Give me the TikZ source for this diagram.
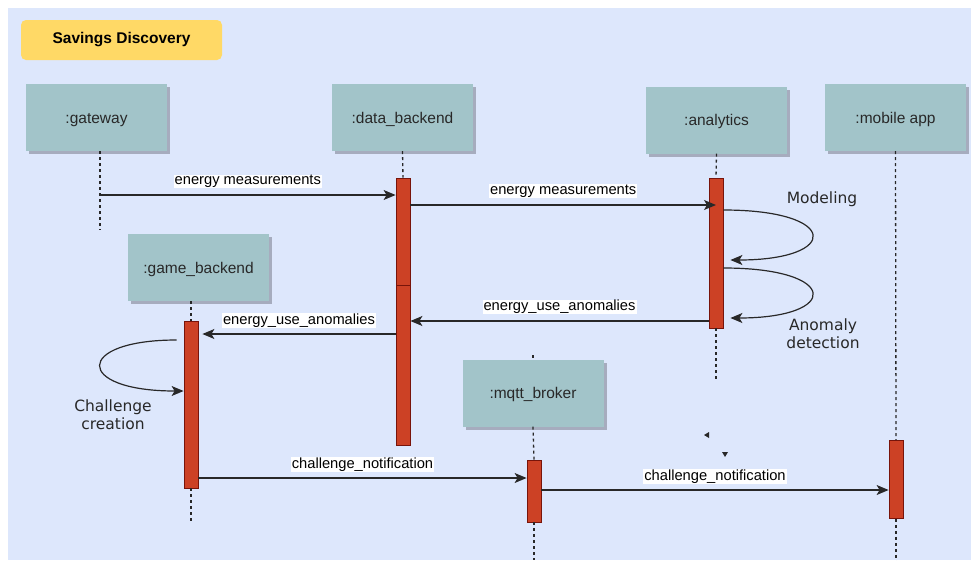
\documentclass[tikz,border=0pt]{standalone}
\usepackage{fontspec}
\setmainfont{Liberation Sans}
\newfontfamily\loopfont{DejaVu Sans}
\usepackage{tikz}
\usetikzlibrary{arrows.meta,shadows}

\definecolor{bgblue}{RGB}{221,231,252}
\definecolor{titleyellow}{RGB}{255,217,102}
\definecolor{actorfill}{RGB}{162,196,201}
\definecolor{barred}{RGB}{204,65,37}
\definecolor{bardraw}{RGB}{120,20,10}
\definecolor{shadowgray}{RGB}{166,172,190}
\definecolor{inkgray}{RGB}{40,40,40}

\begin{document}
\begin{tikzpicture}[x=1pt,y=-1pt,>={Stealth[length=12pt,width=10pt,inset=3pt]}]
            \tikzstyle{actor}=[fill=actorfill,minimum width=141pt,minimum height=67pt,inner sep=0pt,
              text=inkgray,font=\fontsize{15.5}{18}\selectfont,text height=11pt,text depth=0pt,
              drop shadow={shadow xshift=3pt,shadow yshift=-3pt,fill=shadowgray,opacity=1}]
            \tikzstyle{bar}=[fill=barred,draw=bardraw,line width=0.8pt,minimum width=14pt,inner sep=0pt]
            \tikzstyle{life}=[dash pattern=on 3pt off 3pt,line width=1.3pt,inkgray]
            \tikzstyle{msg}=[->,line width=1.2pt,inkgray]
            \tikzstyle{lbl}=[fill=white,inner xsep=1pt,inner ysep=0.3pt,text=black,font=\fontsize{14.7}{17}\selectfont]
            \tikzstyle{loopnote}=[align=center,text=inkgray,font=\loopfont\fontsize{15.5}{18.5}\selectfont]

            \useasboundingbox (0,0) rectangle (971,560);
            \fill[bgblue] (8,8) rectangle (971,560);

            \node[fill=titleyellow,rounded corners=5pt,minimum width=201pt,minimum height=40pt,
              font=\bfseries\fontsize{15.5}{18}\selectfont] (title) at (121.5,40) {Savings Discovery};

            % lifelines behind the boxes
            \draw[life] (533,355) -- (533,392);

            \foreach \name/\x/\y/\txt in {gateway/96.5/117.5/{:gateway}, data/402.5/117.5/{:data\_backend},
                analytics/716.5/120/{:analytics}, mobile/895.5/117.5/{:mobile app},
                game/198.5/267.5/{:game\_backend}, mqtt/533/393/{:mqtt\_broker}}
              \node[actor] (\name) at (\x,\y) {\txt};

            % activations
            \node[bar,minimum height=107pt] (dataA) at (403,231.5) {};
            \node[bar,minimum height=160pt] (dataB) at (403,365) {};
            \node[bar,minimum height=150pt] (anaBar) at (716,253) {};
            \node[bar,minimum height=167pt] (gameBar) at (191,404.5) {};
            \node[bar,minimum height=62pt] (mqttBar) at (534,491) {};
            \node[bar,minimum height=78pt] (mobBar) at (896,479.5) {};

            \draw[life] ([xshift=3.5pt]gateway.south) -- ++(0,79);
            \draw[life] (data.south) -- (dataA.north);
            \draw[life] (analytics.south) -- (anaBar.north);
            \draw[life] (anaBar.south) -- ++(0,52);
            \draw[life] (mobile.south) -- (mobBar.north);
            \draw[life] (mobBar.south) -- ++(0,42);
            \draw[life] ([xshift=-7.5pt]game.south) -- (gameBar.north);
            \draw[life] (gameBar.south) -- ++(0,34);
            \draw[life] (mqtt.south) -- (mqttBar.north);
            \draw[life] (mqttBar.south) -- ++(0,38);

            % messages
            \draw[msg] ([xshift=3.5pt]gateway.south |- 0,195) -- (dataA.west |- 0,195)
              node[lbl,midway,yshift=13.5pt] {energy measurements};
            \draw[msg] (dataA.east |- 0,205) -- (anaBar.center |- 0,205)
              node[lbl,midway,yshift=14pt] {energy measurements};
            \draw[msg] (anaBar.west |- 0,321) -- (dataB.east |- 0,321)
              node[lbl,midway,yshift=14pt] {energy\_use\_anomalies};
            \draw[msg] (dataB.west |- 0,334) -- ([xshift=4pt]gameBar.east |- 0,334)
              node[lbl,midway,yshift=13.5pt] {energy\_use\_anomalies};
            \draw[msg] (gameBar.east |- 0,478) -- (mqttBar.west |- 0,478)
              node[lbl,midway,yshift=13.5pt] {challenge\_notification};
            \draw[msg] (mqttBar.east |- 0,490) -- (mobBar.west |- 0,490)
              node[lbl,midway,yshift=13.5pt] {challenge\_notification};

            % self calls
            \draw[msg] (anaBar.east |- 0,210) .. controls +(117,0) and +(110,0) .. ([xshift=7pt]anaBar.east |- 0,260);
            \draw[msg] (anaBar.east |- 0,268) .. controls +(117,0) and +(110,0) .. ([xshift=7pt]anaBar.east |- 0,318);
            \draw[msg] ([xshift=-7pt]gameBar.west |- 0,340) .. controls +(-102.5,0) and +(-109.5,0) .. (gameBar.west |- 0,391);

            \node[loopnote] (modeling) at (822,199.5) {Modeling};
            \node[loopnote] (anomaly) at (823,333.5) {Anomaly\\detection};
            \node[loopnote] (creation) at (113,414.5) {Challenge\\creation};

            % stray tips
            \fill[inkgray] (704,435) -- (709,432) -- (709,438) -- cycle;
            \fill[inkgray] (722,452) -- (728,452) -- (725,457) -- cycle;
\end{tikzpicture}
\end{document}
